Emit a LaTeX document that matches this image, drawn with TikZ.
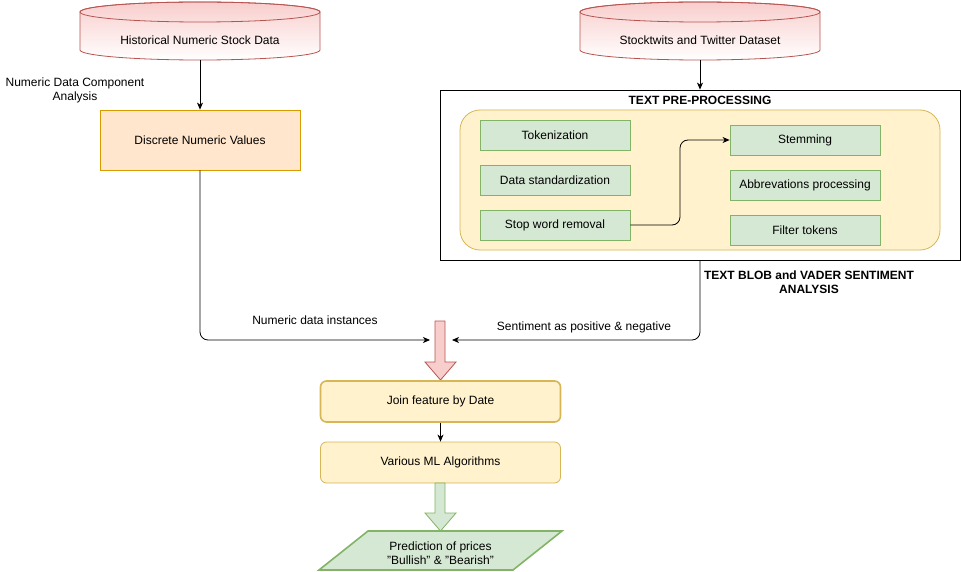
\documentclass[tikz,border=0pt]{standalone}
\usepackage{fontspec}
\setmainfont{Liberation Sans}
\usetikzlibrary{arrows.meta}
\definecolor{redfill}{HTML}{F8CECC}
\definecolor{redline}{HTML}{B85450}
\definecolor{orfill}{HTML}{FFE6CC}
\definecolor{orline}{HTML}{D79B00}
\definecolor{yefill}{HTML}{FFF2CC}
\definecolor{yeline}{HTML}{D6B656}
\definecolor{grfill}{HTML}{D5E8D4}
\definecolor{grline}{HTML}{82B366}
\tikzset{
  every node/.style={font=\fontsize{12}{14}\selectfont, text=black},
  arr/.style={-{Stealth[length=7pt,width=6pt,inset=2pt]}, line width=0.8pt},
  conn/.style={line width=0.8pt, rounded corners=8pt},
  greenbox/.style={draw=grline, fill=grfill, line width=0.8pt, minimum width=150pt, minimum height=30pt, inner sep=0pt},
  cyltext/.style={minimum width=240pt, minimum height=40pt, inner sep=0pt},
  cylbody/.style={draw=redline, line width=0.8pt, top color=redfill, bottom color=white},
  yelbox/.style={draw=yeline, fill=yefill, rounded corners=6pt, minimum width=240pt, minimum height=41pt, inner sep=0pt},
  lbl/.style={align=center, inner sep=0pt},
  bold/.style={font=\fontsize{12}{14}\selectfont\bfseries, align=center, inner sep=0pt}
}
\begin{document}
\begin{tikzpicture}[x=1pt, y=-1pt]
\useasboundingbox (0,0) rectangle (961,572);

% cylinder 1
\path[cylbody] (80,12) -- (80,50) arc[start angle=180,end angle=360,x radius=120pt,y radius=10pt] -- (320,12) arc[start angle=0,end angle=180,x radius=120pt,y radius=10pt] -- cycle;
\draw[redline, line width=0.8pt] (200,12) ellipse [x radius=120pt, y radius=10pt];
\node[cyltext] (hist) at (200,40) {Historical Numeric Stock Data};

% cylinder 2
\path[cylbody] (580,12) -- (580,50) arc[start angle=180,end angle=360,x radius=120pt,y radius=10pt] -- (820,12) arc[start angle=0,end angle=180,x radius=120pt,y radius=10pt] -- cycle;
\draw[redline, line width=0.8pt] (700,12) ellipse [x radius=120pt, y radius=10pt];
\node[cyltext] (stock) at (700,40) {Stocktwits and Twitter Dataset};

% left branch
\node[lbl] (ndca) at (75,90) {Numeric Data Component\\Analysis};
\node[draw=orline, fill=orfill, line width=0.8pt, minimum width=200pt, minimum height=60pt, inner sep=0pt] (disc) at (200,140) {Discrete Numeric Values};
\draw[arr] (hist.south) -- (disc.north);

% text pre-processing
\node[draw=black, line width=0.8pt, minimum width=520pt, minimum height=170pt, inner sep=0pt] (tpp) at (700,175) {};
\node[bold] (tpptitle) at (700,100) {TEXT PRE-PROCESSING};
\draw[arr] (stock.south) -- (tpp.north);
\node[draw=yeline, fill=yefill, line width=0.8pt, rounded corners=20pt, minimum width=480pt, minimum height=140pt, inner sep=0pt] (inner) at (700,180) {};

\node[greenbox] (tok) at (555,135) {Tokenization};
\node[greenbox] (std) at (555,180) {Data standardization};
\node[greenbox] (stop) at (555,225) {Stop word removal};
\node[greenbox] (stem) at (805,140) {Stemming};
\node[greenbox] (abbr) at (805,185) {Abbrevations processing};
\node[greenbox] (filt) at (805,230) {Filter tokens};
\draw[arr, rounded corners=8pt] (stop.east) -- (680,225) -- (680,140) -- (stem.west);

\node[bold] (blob) at (809,282) {TEXT BLOB and VADER SENTIMENT\\ANALYSIS};

% merge
\coordinate (jl) at (430,340);
\coordinate (jr) at (452,340);
\draw[conn, arr] (disc.south) -- (200,340) -- (jl);
\draw[conn, arr] (tpp.south) -- (700,340) -- (jr);
\node[lbl] (ndi) at (315,320) {Numeric data instances};
\node[lbl] (sent) at (584,327) {Sentiment as positive \& negative};

% red big arrow
\draw[draw=redline, fill=redfill, line width=0.8pt] (435,321) -- (445,321) -- (445,362) -- (456,362) -- (440.5,380) -- (425,362) -- (435,362) -- cycle;

\node[yelbox, line width=1.6pt] (join) at (440.5,401.5) {Join feature by Date};
\node[yelbox, line width=0.8pt] (ml) at (440.5,462.5) {Various ML Algorithms};
\draw[arr] (join.south) -- (ml.north);

% green big arrow
\draw[draw=grline, fill=grfill, line width=0.8pt] (435,483) -- (445,483) -- (445,513) -- (456,513) -- (440.5,531) -- (425,513) -- (435,513) -- cycle;

% parallelogram
\draw[draw=grline, fill=grfill, line width=1.6pt] (368,531) -- (562,531) -- (513,570) -- (319,570) -- cycle;
\node[lbl] (pred) at (440.5,553) {Prediction of prices\\"Bullish" \& "Bearish"};
\end{tikzpicture}
\end{document}
